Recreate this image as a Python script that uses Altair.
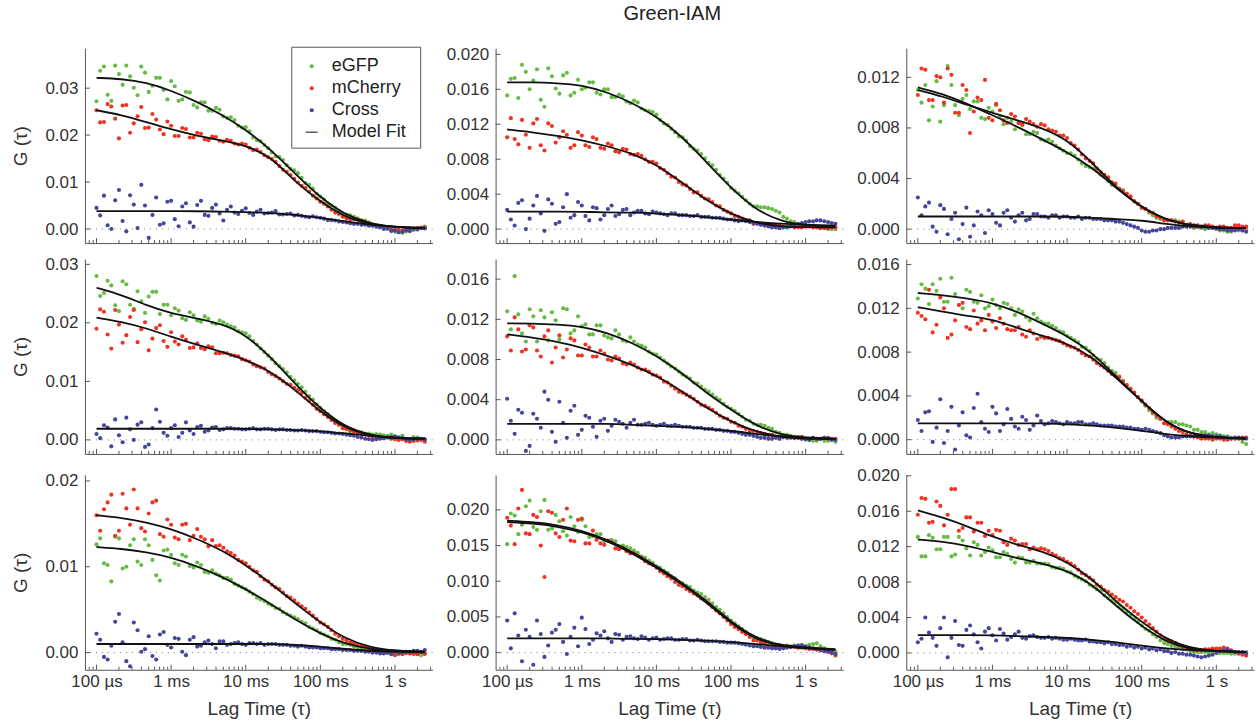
import altair as alt
import pandas as pd

FONT = "Liberation Sans"

# lag times of the measured points (s): two interleaved correlator channels
TAU = [1.00e-4, 1.26e-4, 1.58e-4, 2.00e-4, 2.51e-4, 3.16e-4, 3.98e-4, 5.01e-4, 6.31e-4, 7.94e-4,
       1.00e-3, 1.26e-3, 1.58e-3, 2.00e-3, 2.51e-3, 3.16e-3, 3.98e-3, 5.01e-3, 6.31e-3, 7.94e-3,
       1.00e-2, 1.26e-2, 1.58e-2, 2.00e-2, 2.51e-2, 3.16e-2, 3.98e-2, 5.01e-2, 6.31e-2, 7.94e-2,
       1.00e-1, 1.26e-1, 1.58e-1, 2.00e-1, 2.51e-1, 3.16e-1, 3.98e-1, 5.01e-1, 6.31e-1, 7.94e-1,
       1.00, 1.26, 1.58, 2.00, 2.51]
TAU_B = [1.12e-4, 1.41e-4, 1.78e-4, 2.24e-4, 2.82e-4, 3.55e-4, 4.47e-4, 5.62e-4, 7.08e-4, 8.91e-4,
         1.12e-3, 1.41e-3, 1.78e-3, 2.24e-3, 2.82e-3, 3.55e-3, 4.47e-3, 5.62e-3, 7.08e-3, 8.91e-3,
         1.12e-2, 1.41e-2, 1.78e-2, 2.24e-2, 2.82e-2, 3.55e-2, 4.47e-2, 5.62e-2, 7.08e-2, 8.91e-2,
         1.12e-1, 1.41e-1, 1.78e-1, 2.24e-1, 2.82e-1, 3.55e-1, 4.47e-1, 5.62e-1, 7.08e-1, 8.91e-1,
         1.12, 1.41, 1.78, 2.24]
# lag times of the model-fit curves (s)
FIT_TAU = [1.0e-4, 2.15e-4, 4.64e-4, 1.0e-3, 2.15e-3, 4.64e-3, 1.0e-2, 2.15e-2, 4.64e-2,
           0.1, 0.215, 0.464, 1.0, 2.5]

SERIES = ["eGFP", "mCherry", "Cross"]
COLORS = ["#66bb44", "#ee3322", "#45459a"]

X_MAJOR = [1e-4, 1e-3, 1e-2, 0.1, 1.0]
X_MINOR = [8e-5, 9e-5,
           2e-4, 3e-4, 4e-4, 5e-4, 6e-4, 7e-4, 8e-4, 9e-4,
           2e-3, 3e-3, 4e-3, 5e-3, 6e-3, 7e-3, 8e-3, 9e-3,
           2e-2, 3e-2, 4e-2, 5e-2, 6e-2, 7e-2, 8e-2, 9e-2,
           0.2, 0.3, 0.4, 0.5, 0.6, 0.7, 0.8, 0.9, 2.0, 3.0]

# ================= row 1 =================
P11_EGFP = [.0272, .0346, .0273, .0330, .0348, .0301, .0346, .0292, .0322, .0296,
            .0315, .0273, .0292, .0264, .0270, .0252, .0258, .0240, .0238, .0220,
            .0217, .0195, .0187, .0172, .0155, .0147, .0128, .0119, .0098, .0086,
            .0069, .0054, .0045, .0032, .0029, .0023, .0018, .0009, .0005, .0000,
            -.0006, -.0008, -.0005, .0001, .0005]
P11_EGFP_B = [.0337, .0286, .0348, .0307, .0325, .0285, .0333, .0305, .0322, .0276,
              .0304, .0276, .0291, .0259, .0270, .0252, .0254, .0237, .0232, .0216,
              .0208, .0189, .0179, .0163, .0153, .0136, .0125, .0109, .0094, .0075,
              .0063, .0050, .0038, .0031, .0026, .0019, .0014, .0007, .0003, -.0003,
              -.0007, -.0005, -.0002, .0002]
P11_MCHERRY = [.0253, .0228, .0261, .0193, .0264, .0225, .0260, .0216, .0233, .0202,
               .0220, .0198, .0213, .0195, .0203, .0189, .0196, .0186, .0188, .0180,
               .0180, .0168, .0164, .0153, .0143, .0126, .0115, .0099, .0087, .0071,
               .0058, .0048, .0035, .0026, .0021, .0020, .0014, .0009, .0005, .0001,
               -.0002, -.0003, .0000, .0002, .0003]
P11_MCHERRY_B = [.0227, .0266, .0235, .0263, .0205, .0240, .0215, .0245, .0212, .0229,
                 .0198, .0215, .0195, .0205, .0191, .0197, .0188, .0190, .0182, .0182,
                 .0173, .0169, .0157, .0149, .0134, .0122, .0107, .0092, .0080, .0065,
                 .0054, .0041, .0032, .0023, .0021, .0017, .0011, .0007, .0003, -.0001,
                 -.0001, .0000, .0001, .0003]
P11_CROSS = [.0045, .0071, .0000, .0083, -.0005, .0052, .0094, -.0019, .0067, .0012,
             .0060, .0006, .0055, .0005, .0060, .0028, .0052, .0018, .0048, .0032,
             .0044, .0030, .0041, .0034, .0038, .0031, .0033, .0030, .0026, .0027,
             .0024, .0019, .0018, .0015, .0012, .0011, .0009, .0007, .0004, .0002,
             -.0003, -.0006, -.0004, -.0001, .0001]
P11_CROSS_B = [.0029, .0008, .0061, .0017, .0072, .0002, .0050, .0030, .0009, .0058,
               .0021, .0048, .0014, .0051, .0030, .0045, .0033, .0041, .0035, .0039,
               .0034, .0037, .0033, .0035, .0031, .0032, .0029, .0028, .0025, .0025,
               .0022, .0019, .0016, .0014, .0011, .0009, .0007, .0005, .0000, -.0004,
               -.0007, -.0003, .0000, .0002]
P11_EGFP_FIT = [.0322, .0320, .0312, .0295, .0272, .0245, .0212, .0170, .0117, .0067, .0030, .0011, .0004, .0002]
P11_MCHERRY_FIT = [.0253, .0243, .0228, .0212, .0199, .0189, .0178, .0155, .0100, .0058, .0025, .0010, .0004, .0002]
P11_CROSS_FIT = [.0038, .0038, .0038, .0038, .0038, .0037, .0036, .0034, .0030, .0024, .0016, .0009, .0004, .0002]

P12_EGFP = [.0153, .0173, .0188, .0160, .0183, .0140, .0175, .0155, .0179, .0156,
            .0160, .0168, .0156, .0160, .0151, .0154, .0146, .0147, .0138, .0135,
            .0131, .0121, .0115, .0106, .0101, .0092, .0086, .0076, .0068, .0058,
            .0047, .0041, .0033, .0026, .0025, .0024, .0021, .0014, .0009, .0005,
            .0003, .0004, .0002, .0000, .0000]
P12_EGFP_B = [.0172, .0150, .0180, .0170, .0148, .0184, .0161, .0176, .0153, .0171,
              .0162, .0168, .0154, .0160, .0151, .0152, .0144, .0145, .0136, .0134,
              .0125, .0119, .0111, .0105, .0095, .0090, .0081, .0073, .0062, .0053,
              .0044, .0037, .0029, .0026, .0025, .0023, .0019, .0012, .0008, .0004,
              .0004, .0003, .0002, .0000]
P12_MCHERRY = [.0105, .0103, .0125, .0093, .0126, .0090, .0118, .0105, .0108, .0096,
               .0107, .0094, .0103, .0092, .0096, .0088, .0091, .0085, .0084, .0077,
               .0075, .0068, .0060, .0054, .0050, .0042, .0038, .0034, .0027, .0022,
               .0018, .0014, .0010, .0006, .0005, .0005, .0004, .0003, .0004, .0002,
               .0003, .0002, .0001, .0001, .0002]
P12_MCHERRY_B = [.0127, .0097, .0108, .0121, .0096, .0121, .0099, .0112, .0093, .0111,
                 .0096, .0105, .0093, .0098, .0089, .0092, .0086, .0086, .0080, .0077,
                 .0070, .0064, .0059, .0051, .0046, .0042, .0035, .0031, .0026, .0020,
                 .0015, .0012, .0010, .0007, .0005, .0005, .0005, .0003, .0002, .0002,
                 .0003, .0002, .0001, .0002]
P12_CROSS = [.0022, .0004, .0033, .0012, .0038, -.0002, .0029, .0008, .0040, .0016,
             .0027, .0010, .0024, .0016, .0027, .0017, .0023, .0019, .0021, .0017,
             .0019, .0017, .0018, .0016, .0016, .0015, .0014, .0014, .0013, .0012,
             .0011, .0009, .0009, .0007, .0005, .0003, .0002, .0002, .0003, .0006,
             .0008, .0009, .0010, .0008, .0006]
P12_CROSS_B = [.0011, .0030, .0000, .0027, .0018, .0034, .0006, .0025, .0013, .0031,
               .0015, .0025, .0011, .0023, .0015, .0022, .0016, .0021, .0018, .0020,
               .0018, .0016, .0018, .0016, .0015, .0016, .0014, .0013, .0013, .0011,
               .0010, .0010, .0008, .0006, .0004, .0002, .0001, .0002, .0004, .0007,
               .0009, .0010, .0009, .0007]
P12_EGFP_FIT = [.0168, .0168, .0167, .0165, .0157, .0145, .0129, .0107, .0077, .0047, .0022, .0009, .0004, .0003]
P12_MCHERRY_FIT = [.0114, .0111, .0107, .0102, .0095, .0087, .0074, .0054, .0033, .0017, .0007, .0003, .0002, .0002]
P12_CROSS_FIT = [.0020, .0020, .0020, .0020, .0019, .0019, .0018, .0016, .0014, .0011, .0008, .0006, .0005, .0004]

P13_EGFP = [.0110, .0114, .0097, .0085, .0129, .0098, .0103, .0095, .0101, .0087,
            .0093, .0089, .0088, .0079, .0082, .0075, .0076, .0070, .0069, .0064,
            .0060, .0058, .0052, .0049, .0046, .0041, .0035, .0032, .0028, .0022,
            .0017, .0013, .0009, .0007, .0007, .0006, .0003, .0001, .0001, .0002,
            .0000, -.0001, -.0002, -.0001, .0000]
P13_EGFP_B = [.0100, .0086, .0117, .0098, .0114, .0090, .0106, .0101, .0088, .0096,
              .0098, .0083, .0085, .0084, .0075, .0077, .0071, .0071, .0066, .0062,
              .0060, .0055, .0050, .0048, .0043, .0038, .0034, .0031, .0025, .0020,
              .0016, .0011, .0008, .0007, .0007, .0005, .0004, .0002, .0000, .0001,
              -.0001, -.0002, .0000, -.0001]
P13_MCHERRY = [.0106, .0126, .0102, .0120, .0127, .0092, .0114, .0076, .0104, .0118,
               .0086, .0094, .0084, .0089, .0083, .0085, .0081, .0082, .0078, .0074,
               .0072, .0066, .0059, .0054, .0048, .0043, .0037, .0032, .0028, .0022,
               .0017, .0014, .0010, .0007, .0007, .0005, .0003, .0002, .0002, .0003,
               .0001, .0002, .0001, .0003, .0002]
P13_MCHERRY_B = [.0127, .0102, .0121, .0100, .0122, .0092, .0110, .0093, .0102, .0088,
                 .0099, .0086, .0091, .0084, .0087, .0083, .0083, .0079, .0077, .0074,
                 .0068, .0063, .0056, .0052, .0045, .0041, .0036, .0030, .0026, .0020,
                 .0016, .0013, .0009, .0007, .0006, .0006, .0004, .0003, .0003, .0002,
                 .0002, .0001, .0003, .0002]
P13_CROSS = [.0025, .0018, .0002, .0019, -.0004, .0013, .0004, -.0006, .0014, -.0003,
             .0012, .0003, .0015, .0006, .0013, .0008, .0012, .0010, .0011, .0009,
             .0010, .0009, .0008, .0009, .0008, .0007, .0007, .0006, .0004, .0002,
             -.0001, -.0002, -.0001, .0000, .0001, .0001, .0002, .0003, .0002, .0001,
             .0001, .0000, -.0001, .0000, -.0002]
P13_CROSS_B = [.0011, .0021, -.0002, .0016, .0008, -.0008, .0017, .0003, .0011, .0015,
               .0005, .0013, .0009, .0011, .0007, .0012, .0010, .0009, .0011, .0010,
               .0009, .0010, .0009, .0008, .0008, .0007, .0006, .0005, .0003, .0001,
               -.0002, -.0001, .0000, .0001, .0001, .0002, .0002, .0002, .0002, .0001,
               .0000, -.0001, -.0001, -.0001]
P13_EGFP_FIT = [.0112, .0107, .0099, .0090, .0081, .0071, .0061, .0049, .0032, .0017, .0007, .0003, .0001, .0001]
P13_MCHERRY_FIT = [.0110, .0105, .0098, .0092, .0086, .0080, .0071, .0053, .0032, .0017, .0007, .0003, .0001, .0001]
P13_CROSS_FIT = [.0010, .0010, .0010, .0010, .0010, .0010, .0010, .0009, .0008, .0007, .0004, .0002, .0001, .0001]

# ================= row 2 =================
P21_EGFP = [.0280, .0251, .0264, .0220, .0266, .0224, .0237, .0245, .0253, .0231,
            .0213, .0221, .0205, .0213, .0202, .0207, .0198, .0201, .0194, .0186,
            .0182, .0169, .0156, .0144, .0131, .0121, .0108, .0096, .0082, .0069,
            .0055, .0044, .0032, .0020, .0015, .0013, .0011, .0009, .0009, .0007,
            .0004, .0007, .0000, .0004, .0001]
P21_EGFP_B = [.0246, .0272, .0230, .0271, .0231, .0254, .0217, .0253, .0215, .0231,
              .0225, .0208, .0218, .0204, .0211, .0200, .0204, .0197, .0192, .0184,
              .0177, .0163, .0150, .0138, .0126, .0115, .0102, .0090, .0075, .0061,
              .0049, .0038, .0026, .0018, .0015, .0013, .0011, .0010, .0008, .0009,
              .0005, .0002, .0005, .0002]
P21_MCHERRY = [.0190, .0219, .0156, .0197, .0179, .0222, .0189, .0153, .0191, .0169,
               .0184, .0163, .0171, .0158, .0157, .0160, .0148, .0149, .0145, .0143,
               .0136, .0129, .0124, .0116, .0109, .0100, .0094, .0085, .0072, .0060,
               .0049, .0039, .0029, .0020, .0016, .0013, .0009, .0005, .0004, .0004,
               .0001, .0001, -.0003, -.0001, -.0003]
P21_MCHERRY_B = [.0223, .0180, .0222, .0166, .0210, .0167, .0201, .0173, .0196, .0159,
                 .0168, .0177, .0157, .0165, .0155, .0158, .0148, .0148, .0144, .0138,
                 .0134, .0126, .0122, .0112, .0105, .0096, .0089, .0080, .0067, .0053,
                 .0044, .0034, .0026, .0019, .0014, .0011, .0007, .0005, .0003, .0002,
                 .0000, -.0002, -.0002, .0000]
P21_CROSS = [.0010, .0025, -.0011, .0008, .0038, .0000, .0030, -.0008, .0052, .0012,
             .0020, .0005, .0030, .0010, .0024, .0016, .0022, .0018, .0020, .0019,
             .0018, .0020, .0018, .0019, .0017, .0018, .0017, .0016, .0016, .0015,
             .0014, .0013, .0011, .0010, .0008, .0005, .0002, .0000, .0002, .0004,
             .0006, .0003, .0000, .0002, .0001]
P21_CROSS_B = [.0003, .0021, .0035, -.0004, .0018, .0026, -.0012, .0020, .0031, .0007,
               .0025, .0012, .0016, .0022, .0014, .0021, .0017, .0020, .0019, .0018,
               .0019, .0018, .0019, .0018, .0018, .0017, .0016, .0017, .0015, .0015,
               .0013, .0012, .0011, .0009, .0007, .0004, .0001, .0001, .0003, .0005,
               .0004, .0001, .0001, .0002]
P21_EGFP_FIT = [.0260, .0248, .0230, .0216, .0208, .0199, .0180, .0142, .0095, .0053, .0022, .0008, .0003, .0002]
P21_MCHERRY_FIT = [.0209, .0202, .0191, .0176, .0163, .0151, .0137, .0117, .0085, .0048, .0020, .0007, .0003, .0002]
P21_CROSS_FIT = [.0019, .0019, .0019, .0019, .0019, .0019, .0019, .0018, .0017, .0015, .0011, .0007, .0003, .0002]

P22_EGFP = [.0128, .0163, .0106, .0130, .0098, .0122, .0127, .0100, .0130, .0109,
            .0113, .0105, .0114, .0104, .0101, .0105, .0098, .0098, .0094, .0088,
            .0085, .0079, .0073, .0068, .0063, .0057, .0053, .0048, .0042, .0036,
            .0031, .0026, .0020, .0016, .0015, .0012, .0008, .0005, .0004, .0002,
            .0000, -.0001, .0001, -.0001, -.0002]
P22_EGFP_B = [.0110, .0125, .0098, .0123, .0129, .0099, .0119, .0131, .0106, .0123,
              .0115, .0105, .0114, .0102, .0109, .0099, .0102, .0095, .0092, .0086,
              .0082, .0076, .0071, .0065, .0061, .0056, .0050, .0045, .0040, .0033,
              .0029, .0023, .0019, .0015, .0014, .0011, .0007, .0005, .0003, .0002,
              .0000, -.0001, -.0001, .0000]
P22_MCHERRY = [.0103, .0122, .0088, .0114, .0089, .0103, .0077, .0104, .0090, .0099,
               .0084, .0092, .0083, .0086, .0079, .0081, .0075, .0075, .0070, .0068,
               .0064, .0058, .0054, .0048, .0045, .0041, .0035, .0032, .0027, .0022,
               .0018, .0014, .0011, .0009, .0007, .0005, .0003, .0003, .0002, .0003,
               .0001, .0002, .0001, .0001, .0001]
P22_MCHERRY_B = [.0089, .0110, .0090, .0112, .0083, .0109, .0092, .0082, .0101, .0084,
                 .0095, .0083, .0089, .0080, .0083, .0076, .0077, .0072, .0070, .0065,
                 .0062, .0057, .0051, .0047, .0043, .0038, .0034, .0030, .0024, .0021,
                 .0017, .0013, .0009, .0008, .0006, .0005, .0003, .0003, .0002, .0003,
                 .0001, .0001, .0002, .0001]
P22_CROSS = [.0041, .0006, .0027, -.0006, .0021, .0048, .0008, .0038, .0002, .0034,
             .0010, .0022, .0003, .0021, .0014, .0018, .0012, .0020, .0015, .0017,
             .0014, .0016, .0014, .0014, .0013, .0012, .0012, .0011, .0010, .0009,
             .0008, .0007, .0005, .0004, .0002, .0001, .0002, .0003, .0003, .0002,
             .0001, .0002, .0001, .0002, .0000]
P22_CROSS_B = [.0019, .0030, -.0011, .0026, .0012, .0040, -.0002, .0017, .0029, .0005,
               .0024, .0013, .0019, .0009, .0020, .0016, .0017, .0015, .0016, .0015,
               .0015, .0014, .0015, .0013, .0013, .0012, .0011, .0011, .0010, .0009,
               .0008, .0006, .0005, .0003, .0002, .0001, .0001, .0002, .0002, .0001,
               .0000, .0001, .0002, .0000]
P22_EGFP_FIT = [.0116, .0116, .0115, .0113, .0107, .0097, .0084, .0067, .0047, .0030, .0014, .0005, .0002, .0001]
P22_MCHERRY_FIT = [.0105, .0102, .0098, .0092, .0084, .0075, .0064, .0049, .0032, .0018, .0008, .0003, .0001, .0001]
P22_CROSS_FIT = [.0016, .0016, .0016, .0016, .0016, .0015, .0014, .0013, .0011, .0009, .0006, .0003, .0002, .0001]

P23_EGFP = [.0129, .0138, .0142, .0147, .0126, .0133, .0120, .0135, .0125, .0120,
            .0128, .0120, .0124, .0114, .0117, .0109, .0111, .0106, .0104, .0099,
            .0095, .0091, .0085, .0081, .0074, .0070, .0063, .0058, .0050, .0043,
            .0035, .0027, .0020, .0015, .0016, .0014, .0013, .0009, .0007, .0005,
            .0005, .0003, .0002, .0001, -.0004]
P23_EGFP_B = [.0142, .0124, .0136, .0126, .0148, .0123, .0137, .0126, .0132, .0122,
              .0123, .0125, .0120, .0119, .0112, .0115, .0108, .0106, .0102, .0098,
              .0093, .0089, .0084, .0077, .0073, .0066, .0061, .0054, .0047, .0039,
              .0031, .0024, .0019, .0016, .0016, .0014, .0012, .0009, .0007, .0006,
              .0004, .0003, .0001, -.0002]
P23_MCHERRY = [.0116, .0110, .0098, .0130, .0093, .0109, .0125, .0101, .0106, .0100,
               .0108, .0111, .0101, .0100, .0096, .0100, .0092, .0093, .0092, .0090,
               .0086, .0084, .0079, .0076, .0070, .0066, .0060, .0057, .0050, .0043,
               .0036, .0029, .0022, .0015, .0012, .0008, .0005, .0003, .0001, .0001,
               .0001, .0000, .0001, .0001, .0002]
P23_MCHERRY_B = [.0113, .0137, .0105, .0120, .0096, .0123, .0103, .0118, .0109, .0114,
                 .0102, .0106, .0100, .0103, .0094, .0097, .0094, .0093, .0091, .0088,
                 .0085, .0082, .0077, .0073, .0068, .0063, .0058, .0053, .0046, .0039,
                 .0032, .0025, .0019, .0014, .0010, .0007, .0004, .0002, .0001, .0000,
                 .0001, .0000, .0001, .0002]
P23_CROSS = [.0018, .0025, -.0002, .0037, .0008, -.0009, .0025, .0002, .0042, .0010,
             .0030, .0008, .0028, .0012, .0021, .0009, .0022, .0014, .0017, .0015,
             .0016, .0015, .0016, .0014, .0014, .0013, .0013, .0012, .0011, .0010,
             .0009, .0009, .0007, .0004, .0002, .0002, .0003, .0003, .0004, .0004,
             .0003, .0002, .0001, .0002, .0001]
P23_CROSS_B = [.0008, .0026, .0011, -.0003, .0030, .0013, .0004, .0029, .0016, .0007,
               .0024, .0014, .0019, .0010, .0018, .0013, .0017, .0015, .0016, .0014,
               .0015, .0016, .0014, .0015, .0013, .0013, .0012, .0012, .0011, .0010,
               .0010, .0008, .0006, .0003, .0002, .0003, .0003, .0004, .0004, .0003,
               .0003, .0002, .0002, .0001]
P23_EGFP_FIT = [.0134, .0132, .0129, .0125, .0117, .0106, .0095, .0080, .0057, .0035, .0015, .0005, .0002, .0001]
P23_MCHERRY_FIT = [.0121, .0117, .0113, .0110, .0102, .0095, .0088, .0076, .0056, .0035, .0015, .0005, .0002, .0001]
P23_CROSS_FIT = [.0015, .0015, .0015, .0015, .0015, .0015, .0014, .0013, .0011, .0008, .0005, .0003, .0002, .0001]

# ================= row 3 =================
P31_EGFP = [.0126, .0104, .0083, .0133, .0100, .0132, .0102, .0125, .0090, .0119,
            .0114, .0102, .0112, .0099, .0102, .0093, .0092, .0087, .0085, .0078,
            .0074, .0068, .0062, .0057, .0052, .0047, .0043, .0039, .0034, .0028,
            .0023, .0019, .0015, .0010, .0009, .0006, .0005, .0003, .0001, .0000,
            -.0001, .0000, -.0001, -.0002, -.0002]
P31_EGFP_B = [.0133, .0102, .0135, .0098, .0125, .0106, .0132, .0108, .0084, .0120,
              .0104, .0114, .0101, .0105, .0094, .0096, .0090, .0087, .0080, .0076,
              .0071, .0064, .0060, .0055, .0051, .0045, .0041, .0036, .0030, .0026,
              .0021, .0016, .0012, .0010, .0007, .0005, .0004, .0001, .0000, -.0001,
              -.0002, -.0001, -.0002, -.0003]
P31_MCHERRY = [.0160, .0167, .0184, .0142, .0168, .0190, .0145, .0162, .0177, .0135,
               .0149, .0132, .0150, .0136, .0135, .0124, .0124, .0122, .0116, .0108,
               .0104, .0096, .0089, .0083, .0076, .0070, .0064, .0057, .0051, .0043,
               .0035, .0030, .0022, .0016, .0012, .0009, .0007, .0004, .0003, .0000,
               -.0003, -.0002, -.0001, -.0002, -.0001]
P31_MCHERRY_B = [.0142, .0175, .0136, .0185, .0149, .0168, .0141, .0175, .0138, .0155,
                 .0134, .0149, .0131, .0144, .0132, .0131, .0125, .0118, .0113, .0106,
                 .0100, .0094, .0085, .0079, .0074, .0066, .0061, .0054, .0047, .0039,
                 .0033, .0026, .0019, .0014, .0011, .0008, .0005, .0003, .0001, -.0001,
                 -.0001, .0000, -.0001, .0001]
P31_CROSS = [.0022, -.0005, .0008, .0045, -.0010, .0035, .0001, .0019, -.0008, .0024,
             .0006, .0016, -.0003, .0018, .0008, .0014, .0005, .0013, .0010, .0012,
             .0009, .0011, .0011, .0010, .0010, .0009, .0008, .0007, .0007, .0006,
             .0005, .0005, .0004, .0003, .0003, .0002, .0001, .0000, -.0001, .0000,
             .0001, .0000, .0001, .0002, .0003]
P31_CROSS_B = [.0015, -.0008, .0036, .0012, -.0016, .0026, .0004, -.0004, .0021, .0009,
               .0017, .0001, .0015, .0007, .0012, .0010, .0013, .0009, .0011, .0010,
               .0011, .0010, .0009, .0010, .0009, .0009, .0008, .0008, .0006, .0006,
               .0005, .0004, .0004, .0003, .0002, .0002, .0001, .0000, -.0001, -.0002,
               .0000, .0001, .0002, .0001]
P31_EGFP_FIT = [.0123, .0121, .0117, .0111, .0101, .0089, .0074, .0057, .0038, .0022, .0010, .0004, .0002, .0001]
P31_MCHERRY_FIT = [.0160, .0157, .0152, .0144, .0133, .0120, .0102, .0081, .0057, .0035, .0016, .0006, .0002, .0001]
P31_CROSS_FIT = [.0010, .0010, .0010, .0010, .0010, .0010, .0010, .0010, .0009, .0007, .0004, .0002, .0001, .0000]

P32_EGFP = [.0152, .0192, .0179, .0213, .0172, .0214, .0174, .0184, .0164, .0177,
            .0186, .0162, .0166, .0156, .0158, .0149, .0148, .0143, .0135, .0129,
            .0121, .0115, .0107, .0099, .0094, .0087, .0082, .0074, .0064, .0055,
            .0045, .0037, .0029, .0021, .0019, .0015, .0011, .0009, .0009, .0010,
            .0008, .0012, .0009, .0004, .0001]
P32_EGFP_B = [.0195, .0166, .0205, .0176, .0198, .0172, .0193, .0170, .0190, .0169,
              .0177, .0163, .0166, .0157, .0156, .0150, .0146, .0140, .0133, .0126,
              .0119, .0112, .0104, .0097, .0092, .0084, .0078, .0069, .0060, .0050,
              .0041, .0033, .0025, .0020, .0017, .0013, .0011, .0010, .0010, .0011,
              .0011, .0013, .0006, .0003]
P32_MCHERRY = [.0189, .0152, .0228, .0166, .0190, .0106, .0196, .0162, .0202, .0156,
               .0188, .0153, .0158, .0151, .0155, .0145, .0142, .0139, .0133, .0125,
               .0119, .0111, .0104, .0095, .0089, .0083, .0076, .0069, .0059, .0050,
               .0040, .0033, .0026, .0017, .0014, .0009, .0008, .0008, .0008, .0007,
               .0006, .0005, .0003, .0001, -.0004]
P32_MCHERRY_B = [.0178, .0202, .0167, .0193, .0150, .0198, .0167, .0186, .0157, .0186,
                 .0153, .0171, .0153, .0157, .0146, .0147, .0139, .0136, .0128, .0123,
                 .0114, .0107, .0099, .0093, .0086, .0080, .0073, .0064, .0055, .0045,
                 .0036, .0029, .0022, .0017, .0013, .0009, .0008, .0009, .0008, .0007,
                 .0005, .0004, .0002, -.0001]
P32_CROSS = [.0045, .0055, -.0012, .0022, .0045, -.0006, .0028, .0040, -.0002, .0035,
             .0049, .0012, .0027, .0030, .0015, .0025, .0022, .0020, .0023, .0018,
             .0021, .0019, .0020, .0018, .0019, .0017, .0017, .0016, .0016, .0015,
             .0014, .0013, .0011, .0009, .0008, .0007, .0006, .0006, .0008, .0010,
             .0009, .0006, .0004, .0002, -.0002]
P32_CROSS_B = [.0006, .0024, .0032, -.0017, .0026, .0010, .0032, .0015, .0022, .0009,
               .0033, .0018, .0024, .0020, .0026, .0018, .0023, .0019, .0021, .0020,
               .0018, .0020, .0018, .0019, .0017, .0018, .0016, .0016, .0015, .0014,
               .0014, .0012, .0010, .0009, .0007, .0006, .0005, .0007, .0009, .0010,
               .0007, .0005, .0002, .0000]
P32_EGFP_FIT = [.0185, .0183, .0179, .0171, .0159, .0142, .0121, .0099, .0073, .0043, .0020, .0010, .0007, .0005]
P32_MCHERRY_FIT = [.0183, .0181, .0177, .0169, .0157, .0140, .0119, .0097, .0071, .0041, .0018, .0009, .0006, .0004]
P32_CROSS_FIT = [.0020, .0020, .0020, .0020, .0020, .0019, .0019, .0018, .0017, .0015, .0012, .0009, .0006, .0004]

P33_EGFP = [.0131, .0109, .0130, .0117, .0131, .0111, .0127, .0110, .0122, .0114,
            .0116, .0108, .0112, .0102, .0107, .0102, .0101, .0101, .0097, .0096,
            .0092, .0087, .0083, .0077, .0072, .0065, .0059, .0053, .0046, .0038,
            .0031, .0025, .0018, .0011, .0008, .0006, .0004, .0001, .0001, .0000,
            .0001, .0000, -.0001, .0000, .0001]
P33_EGFP_B = [.0109, .0133, .0117, .0131, .0109, .0131, .0118, .0125, .0110, .0119,
              .0108, .0114, .0106, .0108, .0102, .0104, .0101, .0100, .0096, .0095,
              .0091, .0085, .0081, .0075, .0070, .0062, .0057, .0050, .0042, .0035,
              .0027, .0021, .0014, .0010, .0007, .0004, .0002, .0001, .0001, .0000,
              .0000, .0000, -.0001, .0000]
P33_MCHERRY = [.0156, .0174, .0148, .0166, .0156, .0185, .0141, .0153, .0147, .0132,
               .0133, .0138, .0122, .0127, .0123, .0117, .0117, .0117, .0112, .0107,
               .0103, .0098, .0090, .0085, .0077, .0071, .0066, .0060, .0054, .0047,
               .0040, .0032, .0024, .0016, .0013, .0009, .0006, .0003, .0003, .0004,
               .0005, .0006, .0003, -.0001, -.0003]
P33_MCHERRY_B = [.0175, .0147, .0171, .0144, .0185, .0138, .0153, .0137, .0147, .0138,
                 .0139, .0125, .0129, .0122, .0123, .0119, .0118, .0115, .0110, .0106,
                 .0101, .0094, .0088, .0082, .0075, .0069, .0063, .0058, .0051, .0044,
                 .0036, .0028, .0020, .0014, .0011, .0007, .0005, .0003, .0004, .0005,
                 .0005, .0005, .0001, -.0002]
P33_CROSS = [.0012, .0040, .0017, .0028, -.0005, .0036, .0008, .0031, .0012, .0024,
             .0020, .0027, .0015, .0021, .0017, .0019, .0018, .0017, .0016, .0016,
             .0015, .0015, .0014, .0013, .0012, .0011, .0010, .0009, .0007, .0006,
             .0005, .0004, .0003, .0002, .0000, -.0001, -.0002, -.0003, -.0005, -.0003,
             .0000, .0003, .0002, .0001, .0000]
P33_CROSS_B = [.0016, .0023, .0008, .0040, .0017, .0009, .0026, .0021, .0005, .0028,
               .0014, .0022, .0018, .0024, .0016, .0020, .0017, .0018, .0017, .0015,
               .0016, .0014, .0015, .0013, .0012, .0012, .0010, .0009, .0008, .0007,
               .0006, .0005, .0004, .0002, .0001, -.0001, -.0002, -.0004, -.0004, -.0002,
               .0002, .0004, .0001, .0001]
P33_EGFP_FIT = [.0128, .0126, .0121, .0114, .0107, .0101, .0093, .0078, .0052, .0030, .0012, .0004, .0002, .0001]
P33_MCHERRY_FIT = [.0161, .0153, .0143, .0131, .0122, .0115, .0103, .0084, .0057, .0035, .0015, .0005, .0002, .0001]
P33_CROSS_FIT = [.0020, .0020, .0020, .0020, .0019, .0018, .0017, .0015, .0012, .0008, .0005, .0003, .0002, .0001]

# per panel: (points A, points B, fits, y domain, y tick values, label format)
PANELS = [
    [((P11_EGFP, P11_MCHERRY, P11_CROSS), (P11_EGFP_B, P11_MCHERRY_B, P11_CROSS_B),
      (P11_EGFP_FIT, P11_MCHERRY_FIT, P11_CROSS_FIT),
      [-0.003, 0.0385], [0.0, 0.01, 0.02, 0.03], ".2f"),
     ((P12_EGFP, P12_MCHERRY, P12_CROSS), (P12_EGFP_B, P12_MCHERRY_B, P12_CROSS_B),
      (P12_EGFP_FIT, P12_MCHERRY_FIT, P12_CROSS_FIT),
      [-0.0016, 0.0207], [0.0, 0.004, 0.008, 0.012, 0.016, 0.020], ".3f"),
     ((P13_EGFP, P13_MCHERRY, P13_CROSS), (P13_EGFP_B, P13_MCHERRY_B, P13_CROSS_B),
      (P13_EGFP_FIT, P13_MCHERRY_FIT, P13_CROSS_FIT),
      [-0.0011, 0.0143], [0.0, 0.004, 0.008, 0.012], ".3f")],
    [((P21_EGFP, P21_MCHERRY, P21_CROSS), (P21_EGFP_B, P21_MCHERRY_B, P21_CROSS_B),
      (P21_EGFP_FIT, P21_MCHERRY_FIT, P21_CROSS_FIT),
      [-0.0024, 0.0309], [0.0, 0.01, 0.02, 0.03], ".2f"),
     ((P22_EGFP, P22_MCHERRY, P22_CROSS), (P22_EGFP_B, P22_MCHERRY_B, P22_CROSS_B),
      (P22_EGFP_FIT, P22_MCHERRY_FIT, P22_CROSS_FIT),
      [-0.0014, 0.0180], [0.0, 0.004, 0.008, 0.012, 0.016], ".3f"),
     ((P23_EGFP, P23_MCHERRY, P23_CROSS), (P23_EGFP_B, P23_MCHERRY_B, P23_CROSS_B),
      (P23_EGFP_FIT, P23_MCHERRY_FIT, P23_CROSS_FIT),
      [-0.0013, 0.0165], [0.0, 0.004, 0.008, 0.012, 0.016], ".3f")],
    [((P31_EGFP, P31_MCHERRY, P31_CROSS), (P31_EGFP_B, P31_MCHERRY_B, P31_CROSS_B),
      (P31_EGFP_FIT, P31_MCHERRY_FIT, P31_CROSS_FIT),
      [-0.0020, 0.0207], [0.0, 0.01, 0.02], ".2f"),
     ((P32_EGFP, P32_MCHERRY, P32_CROSS), (P32_EGFP_B, P32_MCHERRY_B, P32_CROSS_B),
      (P32_EGFP_FIT, P32_MCHERRY_FIT, P32_CROSS_FIT),
      [-0.0024, 0.0249], [0.0, 0.005, 0.010, 0.015, 0.020], ".3f"),
     ((P33_EGFP, P33_MCHERRY, P33_CROSS), (P33_EGFP_B, P33_MCHERRY_B, P33_CROSS_B),
      (P33_EGFP_FIT, P33_MCHERRY_FIT, P33_CROSS_FIT),
      [-0.0019, 0.0201], [0.0, 0.004, 0.008, 0.012, 0.016, 0.020], ".3f")],
]

W, H = 348, 195
AXIS_COLOR = "#555555"
LABEL_EXPR = ("datum.value < 0.0005 ? '100 µs' : datum.value < 0.005 ? '1 ms' : "
              "datum.value < 0.05 ? '10 ms' : datum.value < 0.5 ? '100 ms' : '1 s'")

ONE = pd.DataFrame({"k": [0]})


def legend_layers():
    items = [alt.Chart(ONE).mark_rect(fill="white", stroke=AXIS_COLOR, strokeWidth=1).encode(
        x=alt.value(207), x2=alt.value(336), y=alt.value(-1), y2=alt.value(100))]
    for lab, col, yy in zip(SERIES, COLORS, [18, 40, 62]):
        items.append(alt.Chart(ONE).mark_circle(size=17, color=col, opacity=1).encode(
            x=alt.value(227), y=alt.value(yy)))
        items.append(alt.Chart(ONE).mark_text(text=lab, align="left", baseline="middle", fontSize=18,
                                              font=FONT, color="#222222").encode(
            x=alt.value(247), y=alt.value(yy)))
    items.append(alt.Chart(ONE).mark_rule(color="#333333", strokeWidth=1.2).encode(
        x=alt.value(221), x2=alt.value(233), y=alt.value(84)))
    items.append(alt.Chart(ONE).mark_text(text="Model Fit", align="left", baseline="middle", fontSize=18,
                                          font=FONT, color="#222222").encode(
        x=alt.value(247), y=alt.value(84)))
    return items


def panel(spec, row, col):
    data_a, data_b, fits, ydom, yvals, fmt = spec
    rows = []
    for name, va, vb in zip(SERIES, data_a, data_b):
        for t, g in zip(TAU, va):
            rows.append({"tau": t, "g": g, "series": name})
        for t, g in zip(TAU_B, vb):
            rows.append({"tau": t, "g": g, "series": name})
    pts = pd.DataFrame(rows)
    frows = []
    for name, vals in zip(SERIES, fits):
        for t, g in zip(FIT_TAU, vals):
            frows.append({"tau": t, "g": g, "series": name})
    fdf = pd.DataFrame(frows)

    if row == 2:
        xaxis = alt.Axis(values=X_MAJOR, labelExpr=LABEL_EXPR, title="Lag Time (τ)",
                         labelPadding=4, titlePadding=10, ticks=False, grid=False, labelFlush=False)
    else:
        xaxis = alt.Axis(values=X_MAJOR, labels=False, title=None, ticks=False, grid=False)
    x_enc = alt.X("tau:Q", scale=alt.Scale(type="log", domain=[7e-5, 3.2], nice=False), axis=xaxis)
    yaxis = alt.Axis(values=yvals, format=fmt, title=("G (τ)" if col == 0 else None),
                     minExtent=50, maxExtent=50, titlePadding=4, labelPadding=7,
                     ticks=False, grid=False)
    y_enc = alt.Y("g:Q", scale=alt.Scale(domain=ydom, nice=False, zero=False), axis=yaxis)

    zero = alt.Chart(pd.DataFrame({"g": [0.0]})).mark_rule(
        color="#777777", strokeDash=[1, 5], strokeWidth=1).encode(y=y_enc)
    xmaj = alt.Chart(pd.DataFrame({"tau": X_MAJOR})).mark_rule(color=AXIS_COLOR).encode(
        x=x_enc, y=alt.value(H), y2=alt.value(H - 5))
    xmin = alt.Chart(pd.DataFrame({"tau": X_MINOR})).mark_rule(color=AXIS_COLOR).encode(
        x=x_enc, y=alt.value(H), y2=alt.value(H - 3))
    ytk = alt.Chart(pd.DataFrame({"g": yvals})).mark_rule(color=AXIS_COLOR).encode(
        y=y_enc, x=alt.value(0), x2=alt.value(5))
    points = alt.Chart(pts).mark_circle(size=17, opacity=1).encode(
        x=x_enc, y=y_enc,
        color=alt.Color("series:N", scale=alt.Scale(domain=SERIES, range=COLORS), legend=None))
    fit = alt.Chart(fdf).mark_line(color="#111111", strokeWidth=1.8, interpolate="basis").encode(
        x=x_enc, y=y_enc, detail="series:N")
    layers = [zero, xmin, xmaj, ytk, points, fit]
    if row == 0 and col == 0:
        layers += legend_layers()
    return alt.layer(*layers).properties(width=W, height=H)


rows = []
for r in range(3):
    rows.append(alt.hconcat(*[panel(PANELS[r][c], r, c) for c in range(3)], spacing=12))

chart = alt.vconcat(*rows, spacing=11).properties(
    title=alt.TitleParams("Green-IAM", fontSize=20, font=FONT, fontWeight="normal",
                          color="#222222", anchor="middle", dx=39, offset=21),
    padding={"left": 12, "top": 4, "right": 2, "bottom": 2},
    background="white",
).configure_view(stroke=None).configure_axis(
    labelFont=FONT, labelFontSize=17, labelColor="#333333",
    titleFont=FONT, titleFontSize=19, titleFontWeight="normal", titleColor="#333333",
    domainColor=AXIS_COLOR, domainWidth=1,
)

chart.save("out.html", embed_options={"renderer": "svg", "actions": False})
